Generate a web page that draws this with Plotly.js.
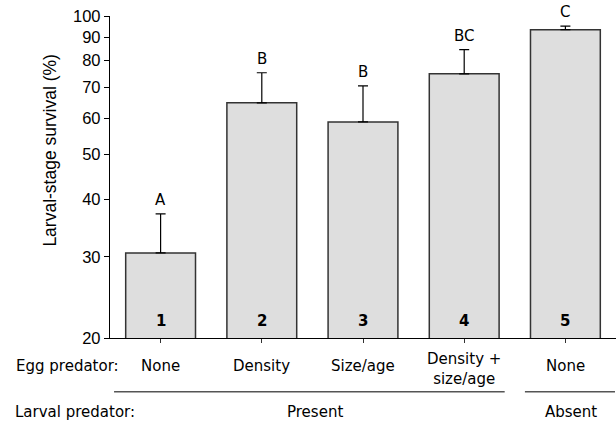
<!DOCTYPE html>
<html>
<head>
<meta charset="utf-8">
<script src="https://cdn.plot.ly/plotly-3.0.1.min.js"></script>
<style>html,body{margin:0;padding:0;background:#fff;}#chart{width:616px;height:423px;}</style>
</head>
<body>
<div id="chart"></div>
<script>
// Data
var treatments = [0, 1, 2, 3, 4];
var treatmentNumbers = ["1", "2", "3", "4", "5"];
var survival = [30.6, 64.8, 58.9, 74.9, 93.4];
var errorUp = [6.6, 10.5, 11.6, 9.6, 1.7];
var letters = ["A", "B", "B", "BC", "C"];
var eggPredator = ["None", "Density", "Size/age", "Density +<br>size/age", "None"];
var larvalGroups = ["Present", "Absent"];
var larvalGroupCenters = [1.53, 4.06];
var yTicks = [20, 30, 40, 50, 60, 70, 80, 90, 100];

var DV = "DejaVu Sans, Verdana, sans-serif";
var AR = "Liberation Sans, Arial, sans-serif";

var trace = {
  type: "bar",
  x: treatments,
  y: survival,
  width: 0.69,
  marker: {color: "#dedede", line: {color: "#333333", width: 1.5}},
  error_y: {type: "data", array: errorUp, arrayminus: errorUp.map(function(){return 0;}), symmetric: false,
            color: "#000", thickness: 1.2, width: 5},
  hoverinfo: "none"
};

var annotations = [];
treatments.forEach(function(t, i) {
  annotations.push({x: t, y: Math.log10(survival[i] + errorUp[i]), xref: "x", yref: "y",
    text: letters[i], showarrow: false, yanchor: "bottom", yshift: 3,
    font: {family: DV, size: 15, color: "#000"}});
  annotations.push({x: t, y: Math.log10(20), xref: "x", yref: "y",
    text: "<b>" + treatmentNumbers[i] + "</b>", showarrow: false, yanchor: "bottom", yshift: 6,
    font: {family: DV, size: 15, color: "#000"}});
  var multi = eggPredator[i].indexOf("<br>") >= 0;
  annotations.push({x: t, y: 0, xref: "x", yref: "paper",
    text: eggPredator[i], showarrow: false, yanchor: "middle", yshift: multi ? -31 : -28,
    font: {family: DV, size: 15, color: "#000"}});
});
annotations.push({x: -0.19, y: 0, xref: "paper", yref: "paper", xanchor: "left",
  text: "Egg predator:", showarrow: false, yanchor: "middle", yshift: -28,
  font: {family: DV, size: 15, color: "#000"}});
annotations.push({x: -0.192, y: 0, xref: "paper", yref: "paper", xanchor: "left",
  text: "Larval predator:", showarrow: false, yanchor: "middle", yshift: -74,
  font: {family: DV, size: 15, color: "#000"}});
larvalGroups.forEach(function(g, i) {
  annotations.push({x: larvalGroupCenters[i], y: 0, xref: "x", yref: "paper",
    text: g, showarrow: false, yanchor: "middle", yshift: -74,
    font: {family: DV, size: 15, color: "#000"}});
});
annotations.push({x: -0.1186, y: 0.585, xref: "paper", yref: "paper", xanchor: "center", yanchor: "middle",
  text: "Larval-stage survival (%)", textangle: -90, showarrow: false,
  font: {family: AR, size: 17.5, color: "#000"}});

var layout = {
  width: 616, height: 423,
  margin: {l: 110, r: 0, t: 16, b: 84.5},
  paper_bgcolor: "#fff", plot_bgcolor: "#fff",
  showlegend: false,
  xaxis: {type: "linear", range: [-0.5, 4.5], showgrid: false, zeroline: false,
    showline: true, linecolor: "#000", linewidth: 1.2,
    tickmode: "array", tickvals: treatments, showticklabels: false,
    ticks: "outside", ticklen: 4, tickcolor: "#333"},
  yaxis: {type: "log", range: [Math.log10(20), 2], showgrid: false, zeroline: false,
    showline: true, linecolor: "#000", linewidth: 1.2,
    tickmode: "array", tickvals: yTicks, ticktext: yTicks.map(String),
    ticks: "outside", ticklen: 5, tickcolor: "#000",
    tickfont: {family: AR, size: 16.5, color: "#000"}},
  shapes: [
    {type: "line", xref: "x", yref: "paper", x0: -0.46, x1: 3.4, y0: -0.167, y1: -0.167,
     line: {color: "#555", width: 1.5}},
    {type: "line", xref: "x", yref: "paper", x0: 3.6, x1: 4.49, y0: -0.167, y1: -0.167,
     line: {color: "#555", width: 1.5}}
  ],
  annotations: annotations
};

Plotly.newPlot("chart", [trace], layout, {staticPlot: true, displayModeBar: false});
</script>
</body>
</html>
